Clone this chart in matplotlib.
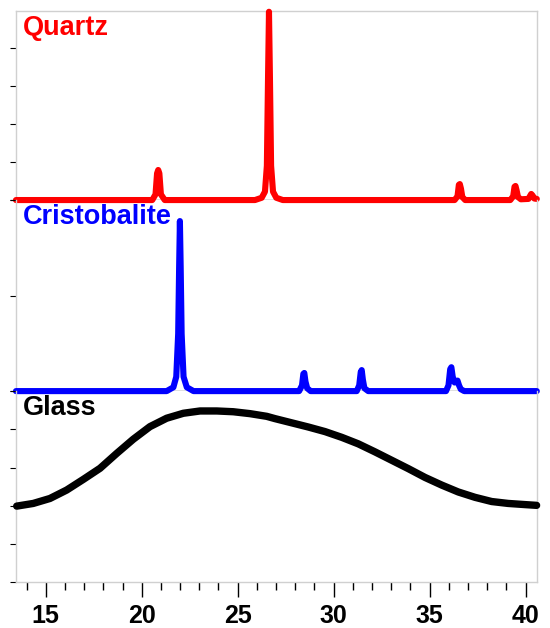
import matplotlib.pyplot as plt
from matplotlib.ticker import MultipleLocator

# 2-theta positions / intensities (arbitrary units)
quartz_x = [13.45, 20.55, 20.72, 20.8, 20.86, 20.92, 21.0, 21.2,
            25.9, 26.25, 26.42, 26.52, 26.58, 26.63, 26.68, 26.74, 26.84, 27.01, 27.35,
            36.3, 36.45, 36.52, 36.57, 36.63, 36.7, 36.85,
            39.2, 39.35, 39.42, 39.47, 39.53, 39.6, 39.75,
            40.15, 40.22, 40.29, 40.36, 40.45, 40.58]
quartz_y = [0, 0, 0.15, 0.7, 0.79, 0.7, 0.15, 0,
            0, 0.06, 0.22, 0.9, 3.2, 4.95, 3.2, 0.9, 0.22, 0.06, 0,
            0, 0.1, 0.4, 0.42, 0.3, 0.08, 0,
            0, 0.1, 0.35, 0.37, 0.25, 0.08, 0.02,
            0.03, 0.1, 0.16, 0.12, 0.04, 0.03]

cristo_x = [13.45, 21.3, 21.65, 21.8, 21.9, 21.95, 21.99, 22.03, 22.08, 22.18, 22.35, 22.7,
            28.2, 28.35, 28.42, 28.47, 28.53, 28.62, 28.8,
            31.2, 31.33, 31.41, 31.46, 31.52, 31.6, 31.8,
            35.85, 35.98, 36.07, 36.13, 36.2, 36.3, 36.38, 36.45, 36.53, 36.62, 36.8, 40.58]
cristo_y = [0, 0, 0.04, 0.15, 0.6, 1.3, 1.78, 1.3, 0.6, 0.15, 0.04, 0,
            0, 0.06, 0.18, 0.19, 0.1, 0.03, 0,
            0, 0.06, 0.2, 0.22, 0.12, 0.03, 0,
            0, 0.06, 0.23, 0.25, 0.15, 0.09, 0.1, 0.11, 0.06, 0.02, 0, 0]

glass_x = [13.49, 14.35, 15.22, 16.09, 16.96, 17.83, 18.70, 19.56, 20.43, 21.30,
           22.17, 23.04, 23.91, 24.77, 25.64, 26.51, 26.94, 27.81, 28.68, 29.55,
           30.42, 31.28, 32.15, 33.02, 33.89, 34.76, 35.63, 36.49, 37.36, 38.23,
           39.09, 39.96, 40.57]
glass_y = [1.99, 2.06, 2.19, 2.41, 2.69, 2.98, 3.37, 3.74, 4.07, 4.29,
           4.42, 4.48, 4.48, 4.46, 4.41, 4.34, 4.28, 4.17, 4.06, 3.94,
           3.79, 3.62, 3.41, 3.19, 2.97, 2.74, 2.54, 2.36, 2.22, 2.11,
           2.06, 2.03, 2.01]

x_ticks = [15, 20, 25, 30, 35, 40]

plt.rcParams['font.family'] = ['Liberation Sans', 'DejaVu Sans']
frame = '#d0d0d0'

fig, axes = plt.subplots(3, 1, figsize=(5.5, 6.28), dpi=100, sharex=True,
                         gridspec_kw={'height_ratios': [189, 191, 191], 'hspace': 0})
fig.subplots_adjust(left=0.029, right=0.976, bottom=0.073, top=0.9825)

panels = [
    (axes[0], quartz_x, quartz_y, 'red', 'Quartz', (0, 4.97), [0, 1, 2, 3, 4], 4.4),
    (axes[1], cristo_x, cristo_y, 'blue', 'Cristobalite', (0, 2), [0, 1, 2], 4.4),
    (axes[2], glass_x, glass_y, 'black', 'Glass', (0, 5), [0, 1, 2, 3, 4, 5], 5.3),
]

for i, (ax, xs, ys, col, name, ylim, yt, lw) in enumerate(panels):
    ax.patch.set_visible(False)
    if i < 2:
        ax.axhline(0, color='black', lw=0.9, zorder=1)
    ax.plot(xs, ys, color=col, lw=lw, solid_joinstyle='round',
            solid_capstyle='round', clip_on=False, zorder=3)
    ax.set_ylim(*ylim)
    ax.set_yticks(yt)
    ax.tick_params(axis='y', direction='out', length=4.5, width=0.8,
                   color='black', labelleft=False)
    ax.text(0.014, 0.91, name, transform=ax.transAxes, color=col,
            fontsize=19.5, fontweight='bold', va='center', ha='left')
    for s in ax.spines.values():
        s.set_color(frame)
        s.set_linewidth(1)
    if i > 0:
        ax.spines['top'].set_visible(False)
    if i < 2:
        ax.spines['bottom'].set_visible(False)
        ax.tick_params(axis='x', which='both', bottom=False, labelbottom=False)

ax = axes[2]
ax.set_xlim(13.45, 40.58)
ax.set_xticks(x_ticks)
ax.xaxis.set_minor_locator(MultipleLocator(1))
ax.tick_params(axis='x', which='major', direction='out', length=10.5, width=1,
               color='black', labelsize=18, pad=5)
ax.tick_params(axis='x', which='minor', direction='out', length=5.5, width=1,
               color='black')
for lab in ax.get_xticklabels():
    lab.set_fontweight('bold')

fig.savefig('out.png', dpi=100, facecolor='white')
